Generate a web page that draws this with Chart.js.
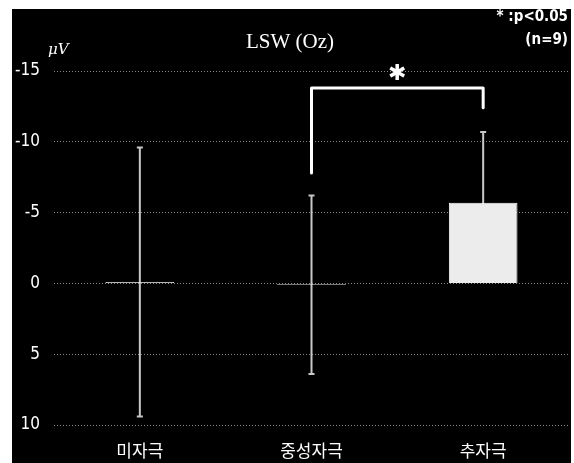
<!DOCTYPE html>
<html>
<head>
<meta charset="utf-8">
<script src="https://cdn.jsdelivr.net/npm/chart.js@4"></script>
<style>
  body { margin: 0; background: #fff; }
  #wrap { position: absolute; left: 12px; top: 9px; width: 559px; height: 454px; background: #000; }
</style>
</head>
<body>
<div id="wrap"><canvas id="chart" width="559" height="454"></canvas></div>
<script>
const categories = ['미자극', '중성자극', '추자극'];
const means = [-0.1, 0.1, -5.7];
const errors = [9.5, 6.3, 5.0];
const yTicks = [-15, -10, -5, 0, 5, 10];

// significance bracket between 중성자극 and 추자극
const sigPair = [1, 2];
const sigLevels = [-7.8, -13.8, -12.4]; // left end, top, right end
const sigStarLevel = -14.8;

const narrow = '"Liberation Sans Narrow", "DejaVu Sans Condensed", "Liberation Sans", sans-serif';

const errorBarPlugin = {
  id: 'errorBars',
  beforeDatasetsDraw(chart) {
    const ctx = chart.ctx;
    const y = chart.scales.y;
    const meta = chart.getDatasetMeta(0);
    ctx.save();
    ctx.strokeStyle = '#c8c8c8';
    ctx.lineWidth = 2;
    meta.data.forEach((bar, i) => {
      const top = y.getPixelForValue(means[i] - errors[i]);
      const bottom = y.getPixelForValue(means[i] + errors[i]);
      ctx.beginPath();
      ctx.moveTo(bar.x, top);
      ctx.lineTo(bar.x, bottom);
      ctx.moveTo(bar.x - 3, top);
      ctx.lineTo(bar.x + 3, top);
      ctx.moveTo(bar.x - 3, bottom);
      ctx.lineTo(bar.x + 3, bottom);
      ctx.stroke();
    });
    ctx.restore();
  }
};

const bracketPlugin = {
  id: 'bracket',
  afterDatasetsDraw(chart) {
    const ctx = chart.ctx;
    const x = chart.scales.x;
    const y = chart.scales.y;
    const x1 = x.getPixelForValue(sigPair[0]);
    const x2 = x.getPixelForValue(sigPair[1]);
    ctx.save();
    ctx.strokeStyle = '#ffffff';
    ctx.lineWidth = 3;
    ctx.lineJoin = 'round';
    ctx.lineCap = 'round';
    ctx.beginPath();
    ctx.moveTo(x1, y.getPixelForValue(sigLevels[0]));
    ctx.lineTo(x1, y.getPixelForValue(sigLevels[1]));
    ctx.lineTo(x2, y.getPixelForValue(sigLevels[1]));
    ctx.lineTo(x2, y.getPixelForValue(sigLevels[2]));
    ctx.stroke();
    ctx.fillStyle = '#ffffff';
    ctx.font = '22px "DejaVu Sans", sans-serif';
    ctx.textAlign = 'center';
    ctx.textBaseline = 'middle';
    ctx.fillText('✱', (x1 + x2) / 2, y.getPixelForValue(sigStarLevel));
    ctx.restore();
  }
};

const textPlugin = {
  id: 'texts',
  afterDraw(chart) {
    const ctx = chart.ctx;
    ctx.save();
    ctx.fillStyle = '#ffffff';
    ctx.textBaseline = 'middle';
    ctx.textAlign = 'center';
    ctx.font = '21px "Liberation Serif", "Times New Roman", serif';
    ctx.fillText('LSW (Oz)', 278, 33);
    ctx.textAlign = 'right';
    ctx.font = 'bold 15px ' + narrow;
    ctx.fillText('* :p<0.05', 556, 8);
    ctx.fillText('(n=9)', 556, 31);
    ctx.textAlign = 'left';
    ctx.font = 'italic 15px "DejaVu Serif", serif';
    ctx.fillText('μV', 36, 41);
    ctx.restore();
  }
};

new Chart(document.getElementById('chart'), {
  type: 'bar',
  data: {
    labels: categories,
    datasets: [{
      data: means,
      backgroundColor: '#ececec',
      borderColor: '#ffffff',
      borderWidth: 1,
      barPercentage: 0.4,
      categoryPercentage: 1.0
    }]
  },
  options: {
    responsive: false,
    animation: false,
    devicePixelRatio: 1,
    layout: { padding: { top: 62, right: 2, left: 0, bottom: 0 } },
    plugins: { legend: { display: false }, tooltip: { enabled: false }, title: { display: false } },
    scales: {
      x: {
        grid: { display: false },
        border: { display: false },
        ticks: { color: '#ffffff', padding: 7, font: { family: '"Noto Sans CJK KR", sans-serif', size: 17 } },
        afterFit(scale) { scale.height = 38; }
      },
      y: {
        reverse: true,
        min: -15,
        max: 10,
        afterBuildTicks(scale) { scale.ticks = yTicks.map(v => ({ value: v })); },
        grid: { color: '#8a8a8a', lineWidth: 1, drawTicks: false },
        border: { display: false, dash: [1, 2] },
        ticks: { color: '#ffffff', padding: 14, font: { family: narrow, size: 17 } },
        afterFit(scale) { scale.width = 42; }
      }
    }
  },
  plugins: [errorBarPlugin, bracketPlugin, textPlugin]
});
</script>
</body>
</html>
